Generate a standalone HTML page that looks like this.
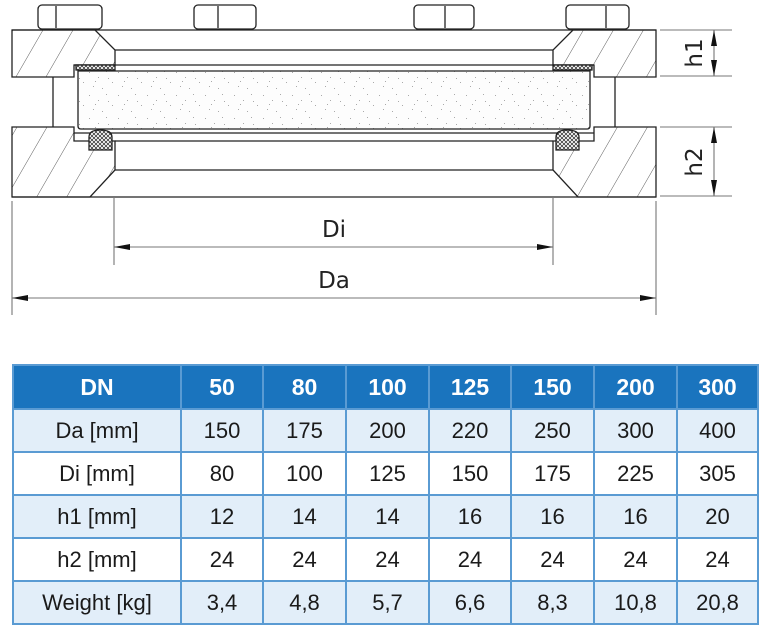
<!DOCTYPE html>
<html><head><meta charset="utf-8"><style>
html,body{margin:0;padding:0;background:#fff;width:768px;height:630px;overflow:hidden}
svg{position:absolute;left:0;top:0}
table{position:absolute;left:12px;top:364px;border-collapse:collapse;font-family:"Liberation Sans",sans-serif;font-size:22px;color:#1a1a1a}
td{border:2px solid #5a9bd3;text-align:center;padding:0;height:41px}
tr.h td{background:#1a74be;color:#fff;font-weight:bold;font-size:23px;height:42px}
tr.b td{background:#e2eef9}
</style></head><body>
<svg width="768" height="340" viewBox="0 0 768 340" xmlns="http://www.w3.org/2000/svg">
<defs>
<pattern id="hat" width="26" height="26" patternUnits="userSpaceOnUse" patternTransform="rotate(30)">
<line x1="0" y1="0" x2="0" y2="26" stroke="#333" stroke-width="0.8"/>
</pattern>
<pattern id="xh" width="4" height="4" patternUnits="userSpaceOnUse">
<rect width="4" height="4" fill="#fff"/><path d="M0 0L4 4M4 0L0 4" stroke="#222" stroke-width="0.7"/>
</pattern>
<pattern id="sand" width="29" height="23" patternUnits="userSpaceOnUse">
<rect width="29" height="23" fill="#fdfdfd"/>
<g fill="#aaa"><rect x="2" y="3" width="1" height="1"/><rect x="11" y="8" width="1" height="1"/><rect x="19" y="2" width="1" height="1"/><rect x="25" y="13" width="1" height="1"/><rect x="6" y="17" width="1" height="1"/><rect x="15" y="19" width="1" height="1"/><rect x="21" y="9" width="1" height="1"/><rect x="8" y="12" width="1" height="1"/></g>
</pattern>
</defs>
<g stroke="#222" stroke-width="1.3" fill="none">
<g fill="#fff">
<rect x="38" y="5" width="64" height="24" rx="4"/><line x1="56" y1="6" x2="56" y2="28"/>
<rect x="194" y="5" width="62" height="24" rx="4"/><line x1="218" y1="6" x2="218" y2="28"/>
<rect x="414" y="5" width="60" height="24" rx="4"/><line x1="445" y1="6" x2="445" y2="28"/>
<rect x="566" y="5" width="63" height="24" rx="4"/><line x1="606" y1="6" x2="606" y2="28"/>
</g>
<polygon points="12,30 95,30 115,50 115,65 74,65 74,77 12,77" fill="url(#hat)"/>
<polygon points="656,30 573,30 553,50 553,65 594,65 594,77 656,77" fill="url(#hat)"/>
<polygon points="12,127 74,127 74,141 115,141 115,170 90,197 12,197" fill="url(#hat)"/>
<polygon points="656,127 594,127 594,141 553,141 553,170 578,197 656,197" fill="url(#hat)"/>
<line x1="12" y1="30" x2="656" y2="30"/>
<line x1="115" y1="50" x2="553" y2="50"/>
<line x1="74" y1="65" x2="594" y2="65"/>
<line x1="12" y1="197" x2="656" y2="197"/>
<line x1="115" y1="141" x2="553" y2="141"/>
<line x1="115" y1="170" x2="553" y2="170"/>
<line x1="74" y1="133" x2="594" y2="133"/>
<line x1="53" y1="77" x2="53" y2="127"/>
<line x1="615" y1="77" x2="615" y2="127"/>
<rect x="76" y="65" width="39" height="5" fill="url(#xh)"/>
<rect x="553" y="65" width="39" height="5" fill="url(#xh)"/>
<path d="M78,71 H590 V126 Q590,129 587,129 H81 Q78,129 78,126 Z" fill="url(#sand)"/>
<path d="M89,150 V137 Q89,130 100,130 Q112,130 112,137 V150 Z" fill="url(#xh)"/>
<path d="M556,150 V137 Q556,130 567,130 Q579,130 579,137 V150 Z" fill="url(#xh)"/>
</g>
<g stroke="#777" stroke-width="1.1">
<line x1="114" y1="197" x2="114" y2="265"/><line x1="553" y1="197" x2="553" y2="265"/>
<line x1="12" y1="201" x2="12" y2="315"/><line x1="656" y1="201" x2="656" y2="315"/>
<line x1="114" y1="247" x2="553" y2="247"/><line x1="12" y1="298" x2="656" y2="298"/>
<line x1="660" y1="30" x2="732" y2="30"/><line x1="660" y1="76" x2="732" y2="76"/>
<line x1="660" y1="127" x2="732" y2="127"/><line x1="660" y1="196" x2="732" y2="196"/>
<line x1="714" y1="30" x2="714" y2="76"/><line x1="714" y1="127" x2="714" y2="196"/>
</g>
<g fill="#111">
<polygon points="114,247 130,244 130,250"/><polygon points="553,247 537,244 537,250"/>
<polygon points="12,298 28,295 28,301"/><polygon points="656,298 640,295 640,301"/>
<polygon points="714,30 711,46 717,46"/><polygon points="714,76 711,60 717,60"/>
<polygon points="714,127 711,143 717,143"/><polygon points="714,196 711,180 717,180"/>
</g>
<g font-family="'DejaVu Sans','Liberation Sans',sans-serif" font-size="23" fill="#222" text-anchor="middle">
<text x="334" y="237">Di</text>
<text x="334" y="288">Da</text>
<text transform="translate(702,53) rotate(-90)">h1</text>
<text transform="translate(702,162) rotate(-90)">h2</text>
</g>
</svg>
<table>
<colgroup><col style="width:168px"><col style="width:82px"><col style="width:83px"><col style="width:83px"><col style="width:82px"><col style="width:83px"><col style="width:83px"><col style="width:81px"></colgroup>
<tr class="h"><td>DN</td><td>50</td><td>80</td><td>100</td><td>125</td><td>150</td><td>200</td><td>300</td></tr>
<tr class="b"><td>Da [mm]</td><td>150</td><td>175</td><td>200</td><td>220</td><td>250</td><td>300</td><td>400</td></tr>
<tr><td>Di [mm]</td><td>80</td><td>100</td><td>125</td><td>150</td><td>175</td><td>225</td><td>305</td></tr>
<tr class="b"><td>h1 [mm]</td><td>12</td><td>14</td><td>14</td><td>16</td><td>16</td><td>16</td><td>20</td></tr>
<tr><td>h2 [mm]</td><td>24</td><td>24</td><td>24</td><td>24</td><td>24</td><td>24</td><td>24</td></tr>
<tr class="b"><td>Weight [kg]</td><td>3,4</td><td>4,8</td><td>5,7</td><td>6,6</td><td>8,3</td><td>10,8</td><td>20,8</td></tr>
</table>
</body></html>
